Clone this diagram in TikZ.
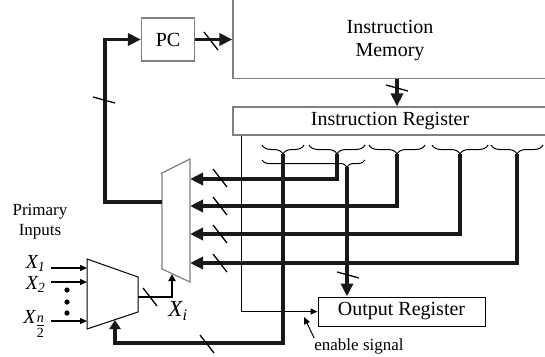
\documentclass[tikz,border=0pt]{standalone}
\usepackage{amsmath}
\usepackage{fontspec}
\setmainfont{Liberation Serif}
\usepackage{tikz}
\usetikzlibrary{arrows.meta,calc,decorations.pathreplacing}

\begin{document}
\begin{tikzpicture}[x=1pt, y=-1pt,
    font=\fontsize{20}{23}\selectfont,
    box/.style={draw=black!50, line width=1.2pt, inner sep=0pt},
    bus/.style={line width=3.3pt, draw=black!90, -{Triangle[length=13pt,width=12pt]}},
    wire/.style={line width=1.3pt, -{Triangle[length=7pt,width=6pt]}},
    cut/.style={line width=1.3pt},
    brc/.style={line width=1pt, decorate, decoration={brace, mirror, amplitude=9pt}}]

  \useasboundingbox (0,0) rectangle (545,356);
  \clip (0,0) rectangle (545,356);

  % Memory, registers, PC
  \node[box, anchor=south, minimum width=314pt, minimum height=100pt] (im) at (390,79) {};
  \node[align=center] (imtext) at (390,41) {Instruction\\Memory};
  \node[box, minimum width=314pt, minimum height=28pt] (ir) at (390,121) {Instruction Register};
  \node[box, minimum width=53pt, minimum height=43pt] (pc) at (168,39.5) {PC};
  \node[draw, line width=1pt, minimum width=167pt, minimum height=29pt] (outreg) at (401.5,311.5) {Output Register};

  % Big mux (field select)
  \coordinate (m1) at (162,173);
  \coordinate (m2) at (190,159);
  \coordinate (m3) at (190,282);
  \coordinate (m4) at (162,269);
  \draw[draw=black!50, line width=1.2pt] (m1) -- (m2) -- (m3) -- (m4) -- cycle;

  % Small mux (primary inputs)
  \coordinate (s1) at (87,259);
  \coordinate (s2) at (138,277);
  \coordinate (s3) at (138,312);
  \coordinate (s4) at (87,329);
  \draw[line width=1pt] (s1) -- (s2) -- (s3) -- (s4) -- cycle;

  % Enable line
  \draw[wire, line width=1pt] ($(ir.south west)+(9,0)$) |- (outreg.west);

  % Instruction fields
  \foreach \a/\b/\n in {262/304/1, 309/365/2, 369/425/3, 432/488/4, 491/543/5} {
    \draw[brc] (\a,145) -- (\b,145);
    \coordinate (t\n) at ({(\a+\b)/2},154);
  }
  \draw[brc, decoration={amplitude=7pt, aspect=0.825}] (262,160) -- (365,160);
  \coordinate (t6) at (347,167);

  % Buses
  \draw[bus] (pc.east) -- (pc.east -| im.west);
  \draw[bus] (im.south -| t3) -- (ir.north -| t3);
  \foreach \n/\y in {2/179, 3/206, 4/234, 5/263} {
    \coordinate (in\n) at (190,\y);
    \draw[bus] (t\n) |- (in\n);
  }
  \coordinate (fb) at (162,202);
  \draw[bus] (fb) -- ++(-57,0) |- (pc.west);
  \draw[bus] (t6) -- (t6 |- outreg.north);
  \coordinate (ctl) at (115,320);
  \draw[bus, -{Triangle[length=9pt,width=11pt]}] (t1) -- ++(0,189) -| (ctl);
  \coordinate (so) at (138,297);
  \coordinate (sel) at (172,274);
  \draw[line width=2pt, -{Triangle[length=7pt,width=7pt]}] (so) -| (sel);

  % Bus width marks
  \foreach \p in {(211,41), (220,178), (220,206), (220,234), (220,263), (150,297), (207,344)}
    \draw[cut] \p ++(-7,-9) -- ++(14,18);
  \foreach \p in {(104,100), (397,88), (348,275)}
    \draw[cut] \p ++(-11,-3) -- ++(22,6);

  % Primary inputs
  \node[font=\fontsize{17}{20}\selectfont, align=center] (prim) at (40,222) {Primary\\Inputs};
  \node[anchor=base east] (x1) at (49,268) {$\textit{X}_{\textit{1}}$};
  \node[anchor=base east] (x2) at (49,289) {$\textit{X}_{\textit{2}}$};
  \node[anchor=base east] (xn) at (49,323) {$\textit{X}_{\tfrac{\textit{n}}{\text{2}}}$};
  \foreach \n/\y in {1/268, 2/282, 3/321} {
    \coordinate (i\n) at (87,\y);
    \draw[wire] ($(i\n)+(-36,0)$) -- (i\n);
  }
  \foreach \y in {290,302,313}
    \fill (67,\y) circle (2.6pt);
  \node[font=\fontsize{23}{26}\selectfont] (xi) at (178,311) {$\textit{X}_{\textit{i}}$};

  % Enable annotation
  \node[font=\fontsize{17}{20}\selectfont, inner sep=0pt] (ens) at (359,346) {enable signal};
  \coordinate (ep) at (304,317);
  \draw[wire, line width=1pt] (ens.north west) -- (ep);
\end{tikzpicture}
\end{document}
